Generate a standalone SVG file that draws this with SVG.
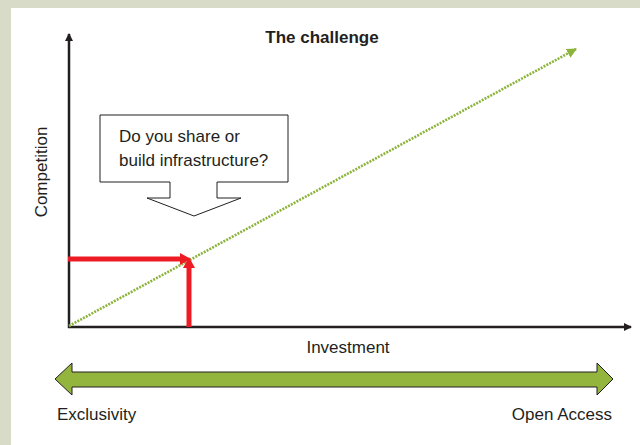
<svg xmlns="http://www.w3.org/2000/svg" width="640" height="445" viewBox="0 0 640 445">
<style>
text{font-family:"Liberation Sans",Arial,sans-serif;fill:#231f20;font-size:17px}
.title{font-weight:bold}
.axis{stroke:#231f20;stroke-width:2.5;fill:none}
.red{stroke:#ed1c24;stroke-width:5;fill:none}
</style>
<defs>
<marker id="ah" markerWidth="10" markerHeight="10" refX="7" refY="4" orient="auto" markerUnits="userSpaceOnUse"><path d="M0,0 L8,4 L0,8 Z" fill="#231f20"/></marker>
<marker id="gh" markerWidth="12" markerHeight="12" refX="9" refY="5" orient="auto" markerUnits="userSpaceOnUse"><path d="M0,0 L10,5 L0,10 Z" fill="#8cb43c"/></marker>
</defs>
<rect x="0" y="0" width="640" height="445" fill="#d8dbc8"/>
<rect x="11" y="8" width="629" height="437" fill="#ffffff"/>
<text class="title" x="322" y="43" text-anchor="middle">The challenge</text>
<g id="connectors">
<line class="axis" x1="69" y1="328" x2="69" y2="34" marker-end="url(#ah)"/>
<line class="axis" x1="68" y1="327" x2="631" y2="327" marker-end="url(#ah)"/>
<line x1="69" y1="326" x2="576" y2="49" stroke="#8cb43c" stroke-width="2.6" stroke-dasharray="2 1.2" marker-end="url(#gh)"/>
<line class="red" x1="68" y1="259" x2="182" y2="259"/>
<path d="M180,253 L191,259 L180,265 Z" fill="#ed1c24"/>
<line class="red" x1="189" y1="327" x2="189" y2="266"/>
<path d="M183,268 L189,257 L195,268 Z" fill="#ed1c24"/>
</g>
<g id="callout">
<path d="M100,115 H288 V182 H217 V198 H241 L194,216 L147,198 H170 V182 H100 Z" fill="#ffffff" stroke="#231f20" stroke-width="1"/>
<text x="119" y="142">Do you share or</text>
<text x="119" y="166">build infrastructure?</text>
</g>
<g id="ylabel"><text x="47" y="172" text-anchor="middle" transform="rotate(-90 47 172)">Competition</text></g>
<g id="xlabel"><text x="348" y="353" text-anchor="middle">Investment</text></g>
<g id="spectrum">
<path d="M55,379 L72,363 V372 H597 V363 L613,379 L597,395 V387 H72 V395 Z" fill="#93b53d" stroke="#231f20" stroke-width="1"/>
<text x="57" y="420">Exclusivity</text>
<text x="612" y="420" text-anchor="end">Open Access</text>
</g>
</svg>
